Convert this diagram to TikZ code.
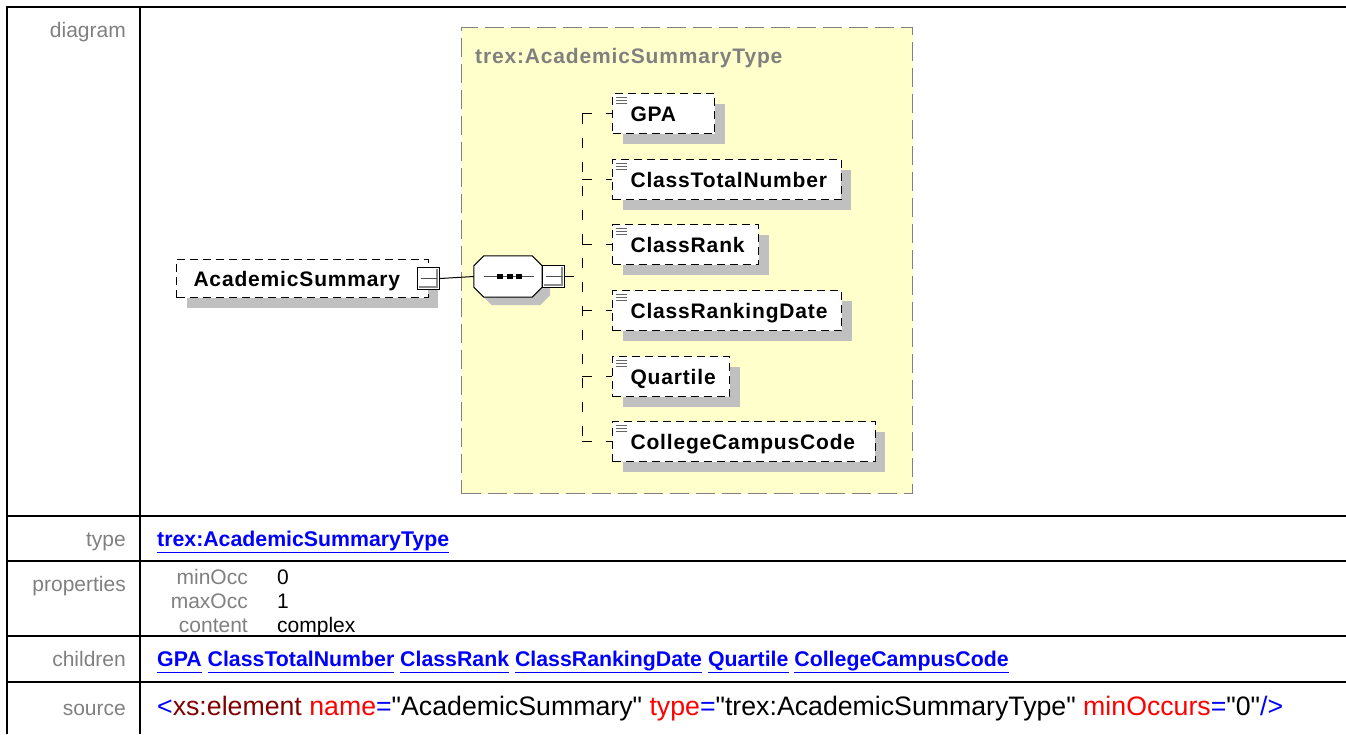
\documentclass[tikz,border=0pt]{standalone}
\usepackage{fontspec}
\setmainfont{Liberation Sans}[Ligatures=TeXOff]
\newfontfamily\diagfont{Liberation Sans}[LetterSpace=4,Ligatures=TeXOff]
\usetikzlibrary{shadows}

\definecolor{typeyellow}{RGB}{255,255,204}
\definecolor{labelgray}{RGB}{128,128,128}
\definecolor{shadowgray}{RGB}{192,192,192}
\definecolor{darkred}{RGB}{128,0,0}

\newcommand{\lnk}[1]{\textcolor{blue}{\bfseries\underline{#1\vphantom{y}}}}
% octagon round the seq node, shifted by #1,#2
\newcommand{\octpath}[2]{([xshift=10pt+#1,yshift=#2]seq.north west) -- ([xshift=-10pt+#1,yshift=#2]seq.north east)
    -- ([xshift=#1,yshift=-10pt+#2]seq.north east) -- ([xshift=#1,yshift=10pt+#2]seq.south east)
    -- ([xshift=-10pt+#1,yshift=#2]seq.south east) -- ([xshift=10pt+#1,yshift=#2]seq.south west)
    -- ([xshift=#1,yshift=10pt+#2]seq.south west) -- ([xshift=#1,yshift=-10pt+#2]seq.north west) -- cycle}

\tikzset{
    tabline/.style={line width=2pt},
    rowlabel/.style={anchor=base east, inner sep=0, text=labelgray, font=\fontsize{21}{25}\selectfont},
    proplabel/.style={rowlabel},
    celltext/.style={anchor=base west, inner sep=0, font=\fontsize{21}{25}\selectfont},
    linktext/.style={celltext, font=\fontsize{21.3}{25}\selectfont},
    typebox/.style={draw=gray, line width=1pt, dash pattern=on 19pt off 7pt, fill=typeyellow, anchor=north west, inner sep=0},
    typelabel/.style={anchor=base west, inner sep=0, text=labelgray, font=\diagfont\bfseries\fontsize{21}{24}\selectfont},
    elem/.style={draw, line width=1pt, dash pattern=on 8pt off 5pt, fill=white, anchor=north west,
        minimum height=40pt, inner xsep=14pt, inner ysep=0, text height=18pt, text depth=2pt,
        font=\diagfont\bfseries\fontsize{21}{24}\selectfont,
        drop shadow={shadow xshift=10pt, shadow yshift=-10pt, fill=shadowgray, opacity=1}},
    toggle/.style={draw, solid, line width=1pt, fill=white, minimum size=22pt, inner sep=0,
        path picture={
            \draw[black!45, line width=1.5pt] ([shift={(-2.5pt,-1pt)}]path picture bounding box.north east)
                -- ([shift={(-2.5pt,2.5pt)}]path picture bounding box.south east)
                -- ([shift={(1pt,2.5pt)}]path picture bounding box.south west);
            \draw[black!70] ([xshift=3pt]path picture bounding box.west) -- ([xshift=-3pt]path picture bounding box.east);
        }},
    seq/.style={minimum width=68pt, minimum height=41pt, inner sep=0},
    branch/.style={line width=1pt, dash pattern=on 10pt off 14pt},
    link/.style={line width=1pt}
}

\begin{document}
\begin{tikzpicture}[x=1pt,y=-1pt]
\useasboundingbox (0,0) rectangle (1346,734);

% table frame
\draw[tabline] (7,734) -- (7,7) -- (1346,7);
\draw[tabline] (140,7) -- (140,734);
\foreach \y in {516,561,636,682}
    \draw[tabline] (7,\y) -- (1346,\y);

% left column
\node[rowlabel] (lbldiagram) at (126,37) {diagram};
\node[rowlabel] (lbltype) at (126,546) {type};
\node[rowlabel] (lblprops) at (126,591) {properties};
\node[rowlabel] (lblchildren) at (126,666) {children};
\node[rowlabel] (lblsource) at (126,715) {source};

% right column
\node[linktext] (celltype) at (157,546) {\lnk{trex:AcademicSummaryType}};
\node[proplabel] (pminocc) at (248,584) {minOcc};
\node[proplabel] (pmaxocc) at (248,608) {maxOcc};
\node[proplabel] (pcontent) at (248,632) {content};
\node[celltext] (vminocc) at (277,584) {0};
\node[celltext] (vmaxocc) at (277,608) {1};
\node[celltext] (vcontent) at (277,632) {complex};
\node[linktext] (cellchildren) at (157,666) {\lnk{GPA} \lnk{ClassTotalNumber} \lnk{ClassRank} \lnk{ClassRankingDate} \lnk{Quartile} \lnk{CollegeCampusCode}};
\node[celltext, font=\fontsize{26.7}{30}\selectfont] (cellsource) at (157,715)
    {\textcolor{blue}{<}\textcolor{darkred}{xs:element} \textcolor{red}{name}\textcolor{blue}{=}"AcademicSummary" \textcolor{red}{type}\textcolor{blue}{=}"trex:AcademicSummaryType" \textcolor{red}{minOccurs}\textcolor{blue}{=}"0"\textcolor{blue}{/>}};

% diagram
\node[typebox, minimum width=451pt, minimum height=466pt] (typebox) at (461,27) {};
\node[typelabel] (typename) at (475,63) {trex:AcademicSummaryType};

\node[elem, minimum height=38pt] (acad) at (176,259) {\hspace{3pt}AcademicSummary\hspace{14pt}\null};
\node[toggle] (acadtoggle) at (acad.east) {};

\node[seq] (seq) at (508,276.5) {};
\fill[shadowgray] \octpath{8pt}{-8pt};
\draw[link, fill=white] \octpath{0pt}{0pt};
\draw[black!70] ([xshift=-24pt]seq.center) -- ([xshift=26pt]seq.center);
\foreach \dx in {-8,1.5,11}
    \fill ([xshift=\dx pt]seq.center) +(-3,-2.5) rectangle +(3,2.5);
\node[toggle, anchor=west] (seqtoggle) at (seq.east) {};

\node[elem] (gpa) at (612,93) {\hspace{4pt}\makebox[70pt][l]{GPA}};
\node[elem] (classtotal) at (612,159) {\hspace{4pt}ClassTotalNumber};
\node[elem] (classrank) at (612,224) {\hspace{4pt}ClassRank};
\node[elem] (rankdate) at (612,290) {\hspace{4pt}ClassRankingDate};
\node[elem] (quartile) at (612,356) {\hspace{4pt}Quartile};
\node[elem] (campus) at (612,421) {\hspace{4pt}CollegeCampusCode\hspace{6pt}\null};

% little doc marks
\foreach \n in {gpa,classtotal,classrank,rankdate,quartile,campus}
    \foreach \k in {4.5,7.5,10.5}
        \draw[black!60] ([shift={(4pt,-\k pt)}]\n.north west) -- ++(11,0);

% connectors
\coordinate (busx) at (582,0);
\draw[link] (acadtoggle.east) -- (seq.west);
\draw[link, dash pattern=on 9pt off 20pt] (seqtoggle.east) -- (seqtoggle.east -| busx);
\draw[branch] (gpa.west -| busx) -- (campus.west -| busx);
\foreach \n in {gpa,classtotal,classrank,rankdate,quartile,campus}
    \draw[branch] (\n.west -| busx) -- (\n.west);
\end{tikzpicture}
\end{document}
